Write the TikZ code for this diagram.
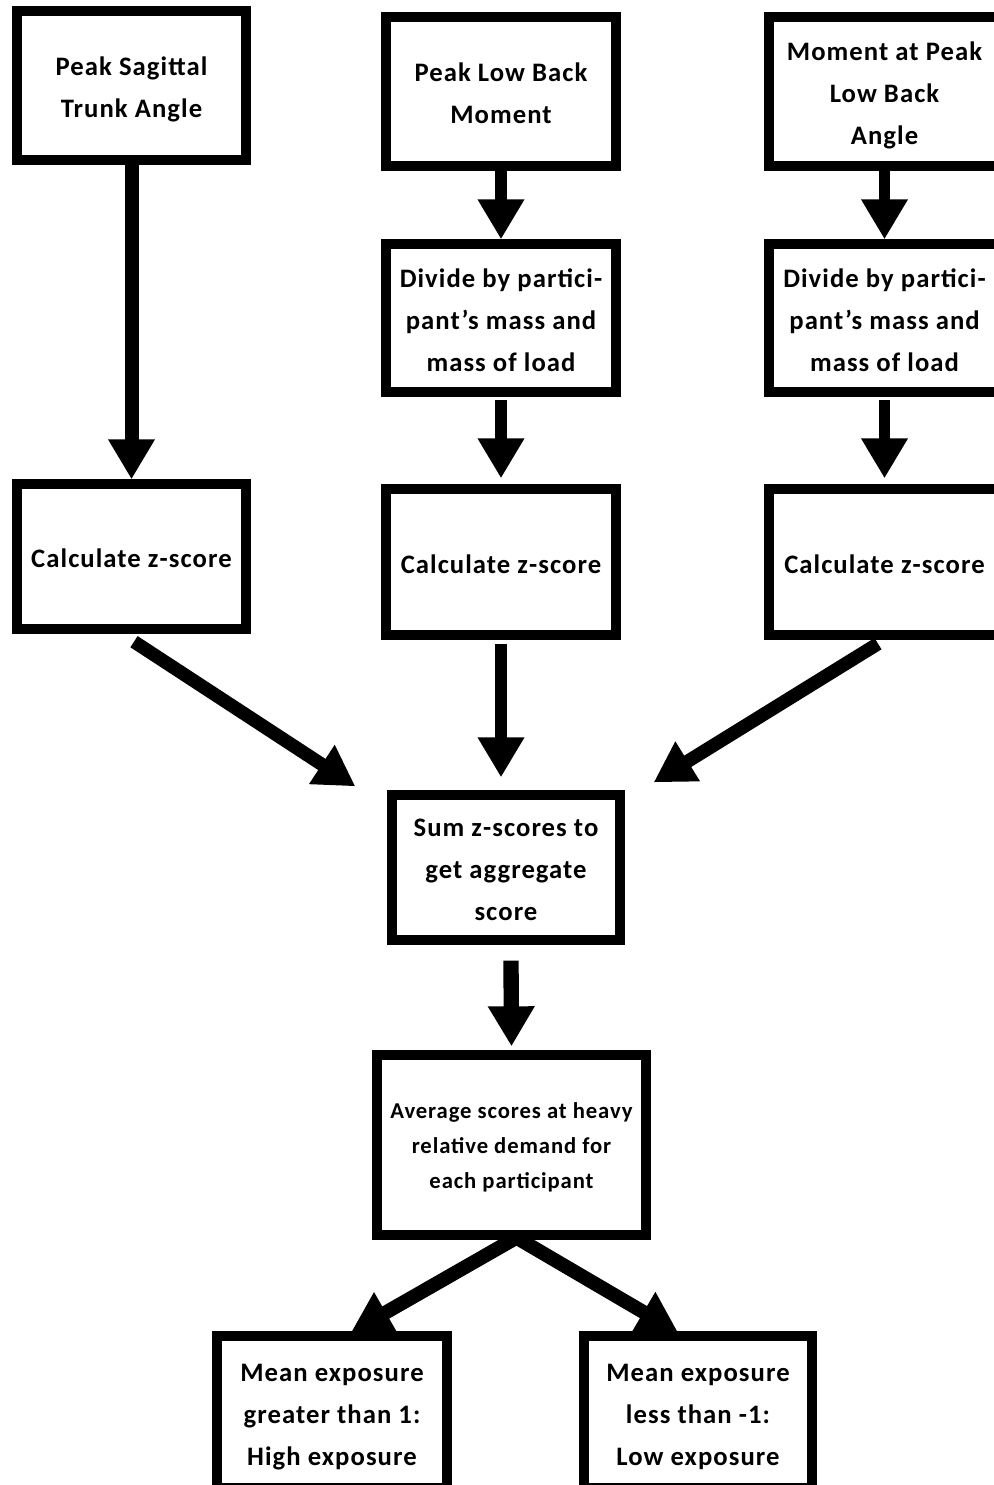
\documentclass[tikz,border=0pt]{standalone}
\usepackage{fontspec}
\setmainfont{Carlito}
\newfontfamily\boxfont{Carlito}[LetterSpace=4.0]
\newcommand{\topstrutA}{\rule{0pt}{22pt}}
\newcommand{\botstrutA}{\rule[-5pt]{0pt}{5pt}}
\newcommand{\topstrutB}{\rule{0pt}{18pt}}
\newcommand{\botstrutB}{\rule[-6pt]{0pt}{6pt}}
\usetikzlibrary{arrows.meta,calc}
\begin{document}
\begin{tikzpicture}[x=0.75pt,y=-0.75pt,
  box/.style={draw=black,line width=7pt,rectangle,inner sep=0pt,align=center,
    font=\boxfont\fontsize{20pt}{31.5pt}\selectfont\bfseries},
  smallbox/.style={box,font=\boxfont\fontsize{17pt}{26.25pt}\selectfont\bfseries},
  wh/.style 2 args={minimum width=#1*0.75pt,minimum height=#2*0.75pt},
  arr/.style={draw=black,line width=9pt,line cap=butt,-{Triangle[length=30pt,width=33pt]}}]
\useasboundingbox (0,0) rectangle (994,1485);
\fill[white] (0,0) rectangle (994,1485);

% top row
\node[box,wh={229}{149}] (b1) at (131.5,85.5) {\topstrutA Peak Sagittal\\Trunk Angle\botstrutA};
\node[box,wh={230}{149}] (b2) at (501,91.5) {\topstrutA Peak Low Back\\Moment\botstrutA};
\node[box,wh={231}{149}] (b3) at (884.5,91.5) {\topstrutA Moment at Peak\\Low Back\\Angle\botstrutA};
% divide row
\node[box,wh={230}{148}] (d2) at (501,318) {\topstrutA Divide by partici-\\pant’s mass and\\mass of load\botstrutA};
\node[box,wh={231}{148}] (d3) at (884.5,318) {\topstrutA Divide by partici-\\pant’s mass and\\mass of load\botstrutA};
% z-score row
\node[box,wh={229}{145}] (c1) at (131.5,556.5) {\topstrutA Calculate z-score\botstrutA};
\node[box,wh={230}{146}] (c2) at (501,562) {\topstrutA Calculate z-score\botstrutA};
\node[box,wh={231}{146}] (c3) at (884.5,562) {\topstrutA Calculate z-score\botstrutA};
% sum
\node[box,wh={228}{145}] (s) at (506,867.5) {\topstrutA Sum z-scores to\\get aggregate\\score\botstrutA};
% average
\node[smallbox,wh={269}{180}] (a) at (511.5,1145) {\topstrutB Average scores at heavy\\relative demand for\\each participant\botstrutB};
% outcomes
\node[box,wh={230}{152}] (m1) at (332,1412) {\topstrutA Mean exposure\\greater than 1:\\High exposure\botstrutA};
\node[box,wh={228}{152}] (m2) at (698,1412) {\topstrutA Mean exposure\\less than -1:\\Low exposure\botstrutA};

% connectors
\draw[arr,line width=10.5pt] (b1.south) -- (c1.north);
\draw[arr,line width=8.5pt] (b2.south) -- (d2.north);
\draw[arr,line width=8.5pt] (b3.south) -- (d3.north);
\draw[arr,line width=8.5pt] ($(d2.south)+(0,3)$) -- ($(c2.north)+(0,-6)$);
\draw[arr,line width=8.5pt] ($(d3.south)+(0,3)$) -- ($(c3.north)+(0,-6)$);
\draw[arr,line width=10pt] ($(c1.south)+(2.5,8)$) -- ($(s.north west)+(-32,-4)$);
\draw[arr,line width=9.5pt] ($(c2.south)+(0,4)$) -- ($(s.north)+(-5,-13)$);
\draw[arr,line width=10pt] ($(c3.south)+(-6.5,4)$) -- ($(s.north east)+(29,-8)$);
\draw[arr,line width=11.5pt] ($(s.south)+(5,16)$) -- ($(a.north)+(0,-4)$);
\draw[arr,line width=10.5pt] ($(a.south)+(5,-2)$) -- ($(m1.north)+(19,1)$);
\draw[arr,line width=10.5pt] ($(a.south)+(5,-2)$) -- ($(m2.north)+(-20,1)$);
\end{tikzpicture}
\end{document}
